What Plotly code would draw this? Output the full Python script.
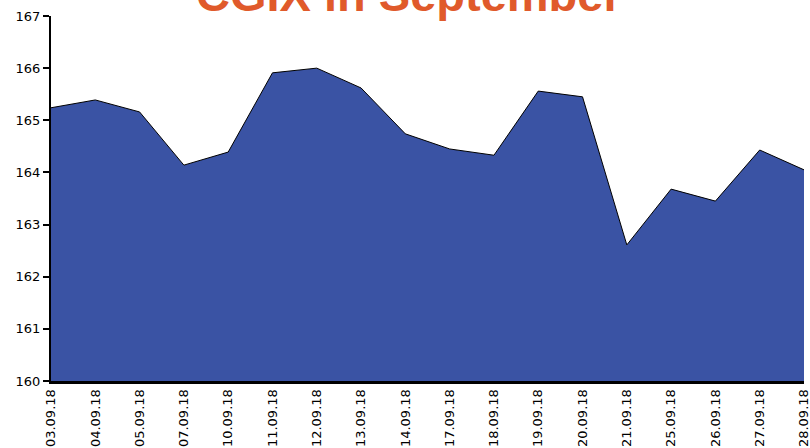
import plotly.graph_objects as go

dates = ["03.09.18", "04.09.18", "05.09.18", "07.09.18", "10.09.18", "11.09.18",
         "12.09.18", "13.09.18", "14.09.18", "17.09.18", "18.09.18", "19.09.18",
         "20.09.18", "21.09.18", "25.09.18", "26.09.18", "27.09.18", "28.09.18"]
prices = [165.24, 165.39, 165.16, 164.14, 164.39, 165.91,
          166.00, 165.62, 164.74, 164.45, 164.33, 165.56,
          165.45, 162.61, 163.68, 163.45, 164.43, 164.05]

fig = go.Figure()
fig.add_trace(go.Scatter(x=dates, y=prices, mode="lines", fill="tozeroy",
                         fillcolor="#3A53A4", line=dict(color="black", width=1),
                         hoverinfo="x+y"))

fig.add_annotation(text="<b>CGIX in September</b>", xref="paper", yref="paper",
                   x=0.475, y=1, yanchor="bottom", yshift=-7, showarrow=False,
                   font=dict(family="Liberation Sans, Arial", size=47, color="#E05A2B"))

fig.update_layout(
    width=810, height=448, showlegend=False,
    margin=dict(l=51, r=6, t=16, b=67, autoexpand=False),
    plot_bgcolor="white", paper_bgcolor="white",
    font=dict(family="DejaVu Sans, Verdana", size=13, color="black"),
)
fig.update_xaxes(type="category", range=[0, len(dates) - 1], tickangle=-90,
                 showline=True, linecolor="black", linewidth=3, ticks="",
                 showgrid=False, zeroline=False, automargin=False)
fig.update_yaxes(range=[160, 167], dtick=1, showline=True, linecolor="black",
                 linewidth=2, ticks="outside", ticklen=6, tickwidth=2,
                 tickcolor="black", showgrid=False, zeroline=False, automargin=False)

# page body has a default margin; drop it so the chart sits at the window's corner
fig.write_html("out.html", config={"displayModeBar": False},
               post_script="document.body.style.margin='0';")
